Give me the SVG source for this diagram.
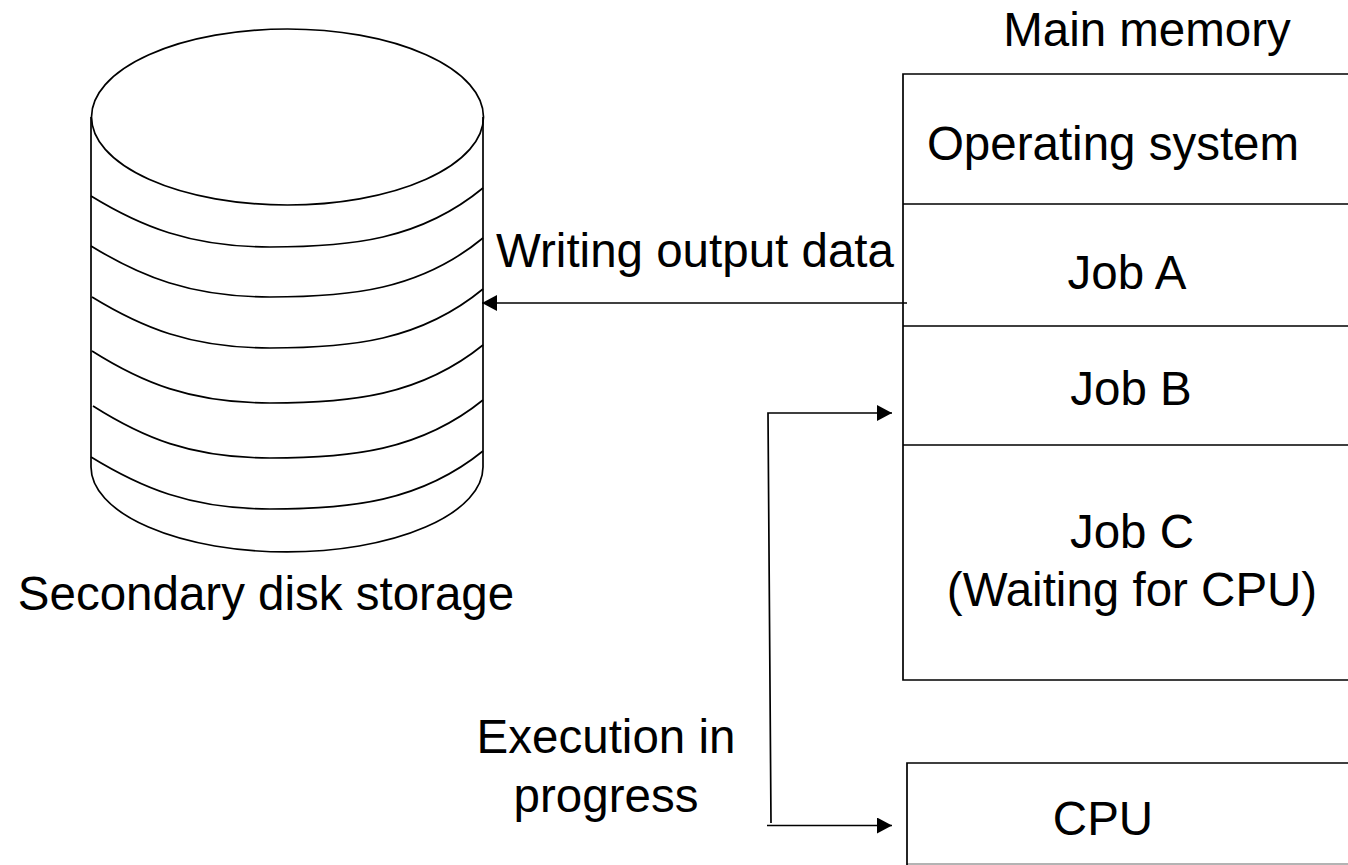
<svg xmlns="http://www.w3.org/2000/svg" width="1348" height="865" viewBox="0 0 1348 865">
<defs>
<marker id="a" markerUnits="userSpaceOnUse" markerWidth="15" markerHeight="16" refX="15" refY="8" orient="auto"><path d="M0 0L15 8L0 16Z" fill="#000"/></marker>
</defs>
<style>
text{font-family:"Liberation Sans",Arial,sans-serif;font-size:47.500px;fill:#000;text-anchor:middle}
.s{fill:none;stroke:#000;stroke-width:1.700}
</style>
<rect width="1348" height="865" fill="#fff"/>
<g id="disk">
<path class="s" d="M91 117V467A196 85 0 0 0 483 467V117"/>
<ellipse class="s" cx="287.500" cy="117" rx="196" ry="88"/>
<path class="s" d="M91 196C140 226 190 247 270 247C350 247 420 240 483 188"/>
<path class="s" d="M91 246C140 276 190 297 270 297C350 297 420 290 483 238"/>
<path class="s" d="M92 297C141 327 190 348 270 348C350 348 420 341 483 289"/>
<path class="s" d="M92 351C141 382 190 403 270 403C350 403 420 396 483 345"/>
<path class="s" d="M93 406C142 437 190 458 270 458C350 458 420 451 483 400"/>
<path class="s" d="M91 457C140 487 190 509 270 509C350 509 420 502 483 451"/>
<text x="266" y="610">Secondary disk storage</text>
</g>
<g id="memory">
<path class="s" d="M1348 74H903V680H1348"/>
<path class="s" d="M903 204H1348M903 326H1348M903 445H1348"/>
<text x="1147" y="46">Main memory</text>
<text x="1113" y="160">Operating system</text>
<text x="1127" y="289">Job A</text>
<text x="1131" y="405">Job B</text>
<text x="1132" y="548">Job C</text>
<text x="1132" y="606">(Waiting for CPU)</text>
</g>
<g id="cpu">
<path class="s" d="M1348 763H907V865"/>
<path class="s" d="M907 864H1348" stroke-opacity="0.4"/>
<text x="1103" y="835">CPU</text>
</g>
<g id="connectors">
<path class="s" d="M907 303H482" marker-end="url(#a)"/>
<path class="s" d="M771 823L768 413H892" marker-end="url(#a)"/>
<path class="s" d="M767 825.500H892" marker-end="url(#a)"/>
</g>
<g id="labels">
<text x="695" y="267">Writing output data</text>
<text x="606" y="753">Execution in</text>
<text x="606" y="812">progress</text>
</g>
</svg>
